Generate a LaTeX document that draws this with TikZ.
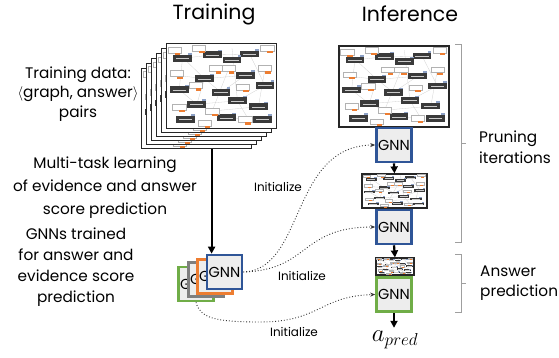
\documentclass[tikz,border=0pt]{standalone}
\usepackage{fontspec}
\setmainfont{Poppins}
\usetikzlibrary{arrows.meta,positioning,calc}

\definecolor{gnnblue}{HTML}{2F5597}
\definecolor{gnngreen}{HTML}{70AD47}
\definecolor{gnnorange}{HTML}{ED7D31}
\definecolor{gnngray}{HTML}{7F7F7F}
\definecolor{kgdark}{HTML}{3A3A3A}

% tiny knowledge graph drawn in the unit square
\newcommand{\kgthumb}{%
  \draw[gray!35, line width=0.3pt] (0.15,0.18) -- (0.42,0.14) -- (0.76,0.13) -- (0.9,0.5) -- (0.65,0.68) -- (0.28,0.72) -- (0.12,0.55) -- (0.15,0.18);
  \draw[gray!35, line width=0.3pt] (0.35,0.42) -- (0.72,0.38) -- (0.5,0.58) -- (0.35,0.42) -- (0.1,0.38);
  \draw[gray!35, line width=0.3pt] (0.57,0.3) -- (0.42,0.8) -- (0.84,0.75) -- (0.9,0.3);
  \draw[gray!35, line width=0.3pt] (0.08,0.08) -- (0.35,0.42) -- (0.28,0.72) -- (0.55,0.88) -- (0.75,0.9) -- (0.65,0.68) -- (0.6,0.06);
  \foreach \x/\y in {0.15/0.18, 0.42/0.14, 0.76/0.13, 0.35/0.42, 0.72/0.38, 0.12/0.55, 0.5/0.58, 0.9/0.5, 0.28/0.72, 0.65/0.68, 0.84/0.75, 0.55/0.88, 0.18/0.9, 0.6/0.2, 0.88/0.9}{
    \fill[kgdark] (\x-0.085,\y-0.04) rectangle (\x+0.085,\y+0.04);
    \draw[white!80!black, line width=0.25pt] (\x-0.06,\y) -- (\x+0.06,\y);
    \fill[gnnblue!55] (\x+0.05,\y-0.06) rectangle (\x+0.085,\y-0.04);
  }
  \foreach \x/\y in {0.08/0.08, 0.3/0.06, 0.92/0.06, 0.57/0.3, 0.9/0.3, 0.1/0.36, 0.27/0.5, 0.7/0.52, 0.12/0.75, 0.42/0.8, 0.72/0.9, 0.35/0.94, 0.45/0.3}{
    \filldraw[fill=white, draw=gray!60, line width=0.3pt] (\x-0.06,\y-0.035) rectangle (\x+0.06,\y+0.035);
    \fill[gnnorange] (\x,\y+0.035) rectangle (\x+0.05,\y+0.06);
  }
}

\begin{document}
\begin{tikzpicture}[
    x=1pt, y=-1pt,
    card/.style={rectangle, draw=black!85, fill=white, line width=1.2pt, inner sep=0pt},
    gnn/.style={rectangle, fill=black!7, line width=2.6pt, minimum width=35pt, minimum height=34pt, inner sep=0pt, font=\fontsize{14.5}{14.5}\selectfont},
    title/.style={font=\fontsize{20.5}{20.5}\selectfont},
    txt/.style={align=center, inner sep=0pt},
    bigarrow/.style={-{Triangle[length=7pt,width=7pt]}, line width=2.2pt},
    initarrow/.style={-{Stealth[length=5pt,width=4pt]}, dotted, line width=0.9pt, black!80},
    bracket/.style={draw=gray!75, line width=0.8pt}
]
\useasboundingbox (0,0) rectangle (559,358);

% Titles
\node[title] (ttrain) at (214,14) {Training};
\node[title] (tinfer) at (410,14) {Inference};

% Training data stack
\foreach \k in {5,...,0}{
  \node[card, minimum width=110pt, minimum height={85pt-\k*1pt}, anchor=north west] (c\k) at (166-5*\k, 43+5*\k) {};
  \begin{scope}[shift={(c\k.north west)}, xscale=110, yscale={85-\k}]
    \kgthumb
  \end{scope}
}

% Left texts
\node[txt, font=\fontsize{15.3}{19.5}\selectfont] (tdata) at (78,94) {Training data:\\$\langle$graph, answer$\rangle$\\pairs};
\node[txt, font=\fontsize{15.3}{23}\selectfont] (tmulti) at (105,188) {Multi-task learning\\of evidence and answer\\score prediction};
\node[txt, font=\fontsize{15.3}{20.8}\selectfont] (tgnns) at (76,267) {GNNs trained\\for answer and\\evidence score\\prediction};

% Trained GNNs
\node[gnn, draw=gnngreen] (gT4) at (196,284) {GNN};
\node[gnn, draw=gnngray] (gT3) at (206,279.5) {GNN};
\node[gnn, draw=gnnorange] (gT2) at (215,276.5) {GNN};
\node[gnn, draw=gnnblue] (gT1) at (224.5,272) {GNN};

\draw[bigarrow] (c2.south |- c5.south) -- (c2.south |- gT1.north);

% Inference
\node[card, minimum width=110pt, minimum height=81pt] (k1) at (394,86.5) {};
\begin{scope}[shift={(k1.north west)}, xscale=110, yscale=81]
  \kgthumb
\end{scope}
\node[gnn, draw=gnnblue] (gI1) at (394,145) {GNN};
\node[card, minimum width=65pt, minimum height=34pt] (k2) at (394.5,191) {};
\begin{scope}[shift={(k2.north west)}, xscale=65, yscale=34]
  \kgthumb
\end{scope}
\node[gnn, draw=gnnblue] (gI2) at (394,227) {GNN};
\node[card, minimum width=38pt, minimum height=17pt] (k3) at (395,266.5) {};
\begin{scope}[shift={(k3.north west)}, xscale=38, yscale=17]
  \kgthumb
\end{scope}
\node[gnn, draw=gnngreen] (gI3) at (394,294.5) {GNN};
\node[font=\fontsize{24}{24}\selectfont] (apred) at (395,340) {$a_{pred}$};

\draw[bigarrow] (gI1.south) -- (k2.north);
\draw[bigarrow] (gI2.south) -- (k3.north);
\draw[bigarrow] (gI3.south) -- ++(0,15);

% Initialize connectors
\draw[initarrow] (gT1.east) .. controls (305,270) and (290,146) .. (gI1.west);
\draw[initarrow] (gT1.east) .. controls (310,270) and (300,227) .. (gI2.west);
\draw[initarrow] (gT4.south) .. controls (200,318) and (215,322) .. (260,322) .. controls (320,322) and (320,296) .. (gI3.west);
\node[font=\fontsize{12}{12}\selectfont] (lini1) at (278,187) {Initialize};
\node[font=\fontsize{12}{12}\selectfont] (lini2) at (302,276) {Initialize};
\node[font=\fontsize{12}{12}\selectfont] (lini3) at (294,332) {Initialize};

% Brackets
\draw[bracket] (455,44) -- (461,44) -- (461,242) -- (455,242);
\draw[bracket] (461,143) -- (466,143);
\draw[bracket] (455,254) -- (461,254) -- (461,312) -- (455,312);
\draw[bracket] (461,283) -- (466,283);
\node[txt, align=left, anchor=west, font=\fontsize{15.3}{21}\selectfont] (tprune) at (479,147.5) {Pruning\\iterations};
\node[txt, align=left, anchor=west, font=\fontsize{15.3}{20}\selectfont] (tanswer) at (480,283) {Answer\\prediction};

\end{tikzpicture}
\end{document}
